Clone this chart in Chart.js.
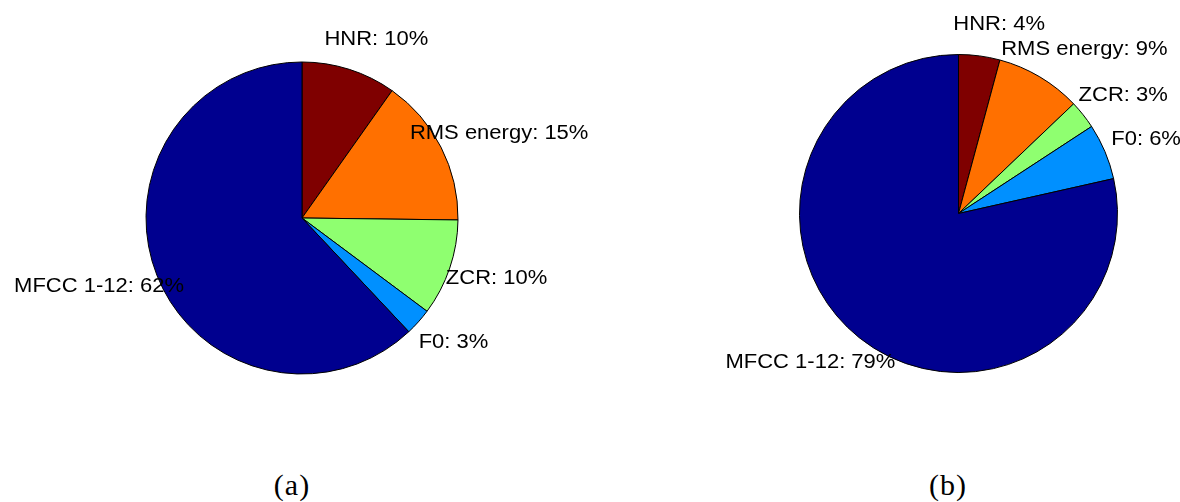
<!DOCTYPE html>
<html>
<head>
<meta charset="utf-8">
<script src="https://cdn.jsdelivr.net/npm/chart.js@4/dist/chart.umd.min.js"></script>
<style>
  body { margin: 0; background: #fff; width: 1180px; height: 502px; overflow: hidden; position: relative; }
  canvas { position: absolute; top: 0; }
  #pieA { left: 0; }
  #pieB { left: 600px; }
  .caption { position: absolute; top: 470px; font: 30px "Liberation Serif", serif; line-height: 30px; letter-spacing: 1px; transform: translateX(-50%); }
</style>
</head>
<body>
<canvas id="pieA" width="600" height="460"></canvas>
<canvas id="pieB" width="580" height="460"></canvas>
<div class="caption" style="left: 292px">(a)</div>
<div class="caption" style="left: 948px">(b)</div>
<script>
/*
 * Feature contributions (percent)
 */
const features = ["HNR", "RMS energy", "ZCR", "F0", "MFCC 1-12"];
const shareA = [9.8, 15.4, 10.0, 2.8, 62.0];
const shareB = [4.2, 8.7, 2.9, 5.7, 78.6];
const sliceColors = ["#7F0000", "#FF7000", "#8FFF70", "#0090FF", "#00008F"];

/*
 * Labels sit outside the pie, like matlab's pie() does
 */
const outsideLabels = {
  id: "outsideLabels",
  afterDatasetsDraw(chart) {
    const ctx = chart.ctx;
    const meta = chart.getDatasetMeta(0);
    const values = chart.data.datasets[0].data;
    ctx.save();
    ctx.font = '20px "Liberation Sans", Arial, sans-serif';
    ctx.fillStyle = "#000";
    ctx.textAlign = "center";
    ctx.textBaseline = "middle";
    meta.data.forEach((arc, i) => {
      const p = arc.getProps(["x", "y", "startAngle", "endAngle", "outerRadius"], true);
      const mid = (p.startAngle + p.endAngle) / 2;
      const ax = p.x + Math.cos(mid) * p.outerRadius * 1.2;
      const ay = p.y + Math.sin(mid) * p.outerRadius * 1.2;
      const text = `${chart.data.labels[i]}: ${Math.round(values[i])}%`;
      const w = ctx.measureText(text).width * 1.1;
      const cx = ax + Math.sign(Math.cos(mid)) * 0.17 * w;
      ctx.save();
      ctx.translate(cx, ay);
      ctx.scale(1.1, 1);
      ctx.fillText(text, 0, 0);
      ctx.restore();
    });
    ctx.restore();
  }
};

function makePie(id, values, radius, padding) {
  return new Chart(document.getElementById(id), {
    type: "pie",
    data: {
      labels: features,
      datasets: [{
        data: values,
        backgroundColor: sliceColors,
        borderColor: "#000",
        borderWidth: 1,
        hoverOffset: 0,
        radius: radius
      }]
    },
    options: {
      responsive: false,
      animation: false,
      events: [],
      layout: { padding: padding },
      plugins: {
        legend: { display: false },
        tooltip: { enabled: false }
      }
    },
    plugins: [outsideLabels]
  });
}

makePie("pieA", shareA, 156, { left: 146, top: 62, right: 142, bottom: 86 });
makePie("pieB", shareB, 159, { left: 199, top: 54, right: 62, bottom: 87 });
</script>
</body>
</html>
